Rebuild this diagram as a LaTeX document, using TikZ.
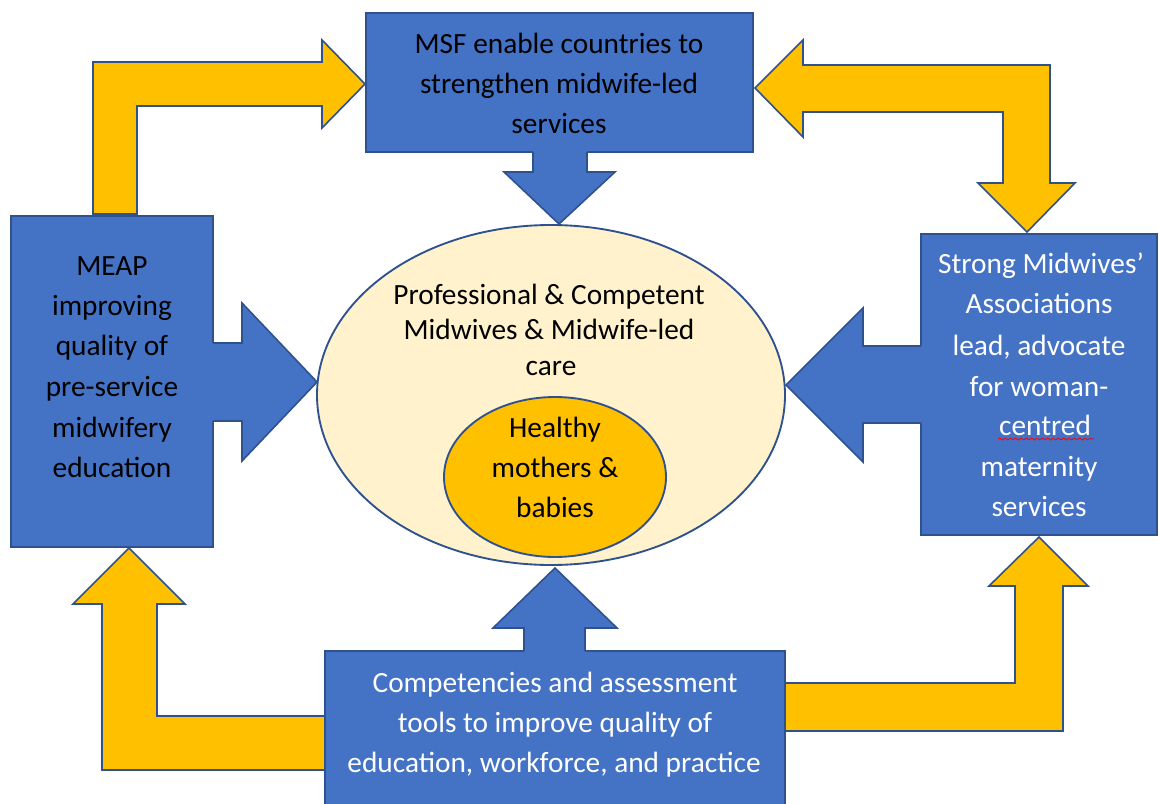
\documentclass[tikz,border=0pt]{standalone}
\usepackage{fontspec}
\setmainfont{Carlito}
\usetikzlibrary{shapes.geometric,decorations.pathmorphing}
\definecolor{bfill}{HTML}{4472C4}
\definecolor{bline}{HTML}{2F528F}
\definecolor{yfill}{HTML}{FFC000}
\definecolor{efill}{HTML}{FFF2CC}
\begin{document}
\begin{tikzpicture}[x=0.75pt,y=-0.75pt,
  bluebox/.style={draw=bline, fill=bfill, line width=1.2pt, inner sep=0pt},
  yarrow/.style={fill=yfill, draw=bline, line width=1.2pt, line join=miter},
  barrowfill/.style={fill=bfill},
  barrowline/.style={draw=bline, line width=1.2pt, line join=miter},
  oval/.style={ellipse, draw=bline, line width=1.4pt, inner sep=0pt},
  txt/.style={font=\fontsize{22}{26}\selectfont, inner sep=0pt, anchor=base},
  wtxt/.style={txt, text=white},
]
\useasboundingbox[fill=white] (0,0) rectangle (1159,803);

% yellow elbow arrows
\path[yarrow] (93,214) -- (93,62) -- (322,62) -- (322,40) -- (365,84) -- (322,128) -- (322,106) -- (137,106) -- (137,214) -- cycle;
\path[yarrow] (755,88) -- (803,40) -- (803,65) -- (1050,65) -- (1050,183) -- (1075,183) -- (1027,232) -- (978,183) -- (1003,183) -- (1003,112) -- (803,112) -- (803,137) -- cycle;
\path[yarrow] (129,548) -- (185,604) -- (157,604) -- (157,716) -- (326,716) -- (326,770) -- (102,770) -- (102,604) -- (73,604) -- cycle;
\path[yarrow] (784,683) -- (1015,683) -- (1015,586) -- (989,586) -- (1039,537) -- (1088,586) -- (1063,586) -- (1063,731) -- (784,731) -- cycle;

% boxes
\node[bluebox, minimum width={387*0.75pt}, minimum height={139*0.75pt}] (msf) at (559.5,82.5) {};
\node[bluebox, minimum width={202*0.75pt}, minimum height={331*0.75pt}] (meap) at (112,381.5) {};
\node[bluebox, minimum width={236*0.75pt}, minimum height={301*0.75pt}] (sma) at (1039,384.5) {};
\node[bluebox, minimum width={460*0.75pt}, minimum height={170*0.75pt}] (comp) at (555,736) {};

% ellipses
\node[oval, fill=efill, minimum width={468*0.75pt}, minimum height={340*0.75pt}] (outer) at (551,395) {};
\node[oval, fill=yfill, minimum width={222*0.75pt}, minimum height={160*0.75pt}] (inner) at (555,477) {};

% blue block arrows
\path[barrowfill] (205,343) -- (242,343) -- (242,303) -- (317,382) -- (242,461) -- (242,421) -- (205,421) -- cycle;
\path[barrowline] (213,343) -- (242,343) -- (242,303) -- (317,382) -- (242,461) -- (242,421) -- (213,421);
\path[barrowfill] (929,346) -- (863,346) -- (863,308) -- (786,385) -- (863,462) -- (863,423) -- (929,423) -- cycle;
\path[barrowline] (921,346) -- (863,346) -- (863,308) -- (786,385) -- (863,462) -- (863,423) -- (921,423);
\path[barrowfill] (533,144) -- (533,172) -- (504,172) -- (559,224) -- (615,172) -- (587,172) -- (587,144) -- cycle;
\path[barrowline] (533,152) -- (533,172) -- (504,172) -- (559,224) -- (615,172) -- (587,172) -- (587,152);
\path[barrowfill] (524,659) -- (524,628) -- (493,628) -- (555,568) -- (617,628) -- (585,628) -- (585,659) -- cycle;
\path[barrowline] (524,651) -- (524,628) -- (493,628) -- (555,568) -- (617,628) -- (585,628) -- (585,651);

% texts
\node[txt] (m1) at (559,53) {MSF enable countries to};
\node[txt] (m2) at (559,93) {strengthen midwife-led};
\node[txt] (m3) at (559,133) {services};

\node[txt] (e1) at (112,275) {MEAP};
\node[txt] (e2) at (112,315) {improving};
\node[txt] (e3) at (112,355) {quality of};
\node[txt] (e4) at (112,396) {pre-service};
\node[txt] (e5) at (112,437) {midwifery};
\node[txt] (e6) at (112,477) {education};

\node[txt] (c1) at (549,304) {Professional \& Competent};
\node[txt] (c2) at (549,339.5) {Midwives \& Midwife-led};
\node[txt] (c3) at (551,375) {care};

\node[txt] (h1) at (555,437) {Healthy};
\node[txt] (h2) at (555,477) {mothers \&};
\node[txt] (h3) at (555,517) {babies};

\node[wtxt] (s1) at (1041,273) {Strong Midwives’};
\node[wtxt] (s2) at (1039,313) {Associations};
\node[wtxt] (s3) at (1039,355) {lead, advocate};
\node[wtxt] (s4) at (1039,396) {for woman-};
\node[wtxt] (s5) at (1045,435) {centred};
\node[wtxt] (s6) at (1039,476) {maternity};
\node[wtxt] (s7) at (1039,516) {services};
\draw[red, line width=0.6pt, decorate, decoration={snake, amplitude=0.7pt, segment length=4pt}] (998,439) -- (1094,439);

\node[wtxt] (b1) at (555,692) {Competencies and assessment};
\node[wtxt] (b2) at (555,732) {tools to improve quality of};
\node[wtxt] (b3) at (554,772) {education, workforce, and practice};
\end{tikzpicture}
\end{document}
